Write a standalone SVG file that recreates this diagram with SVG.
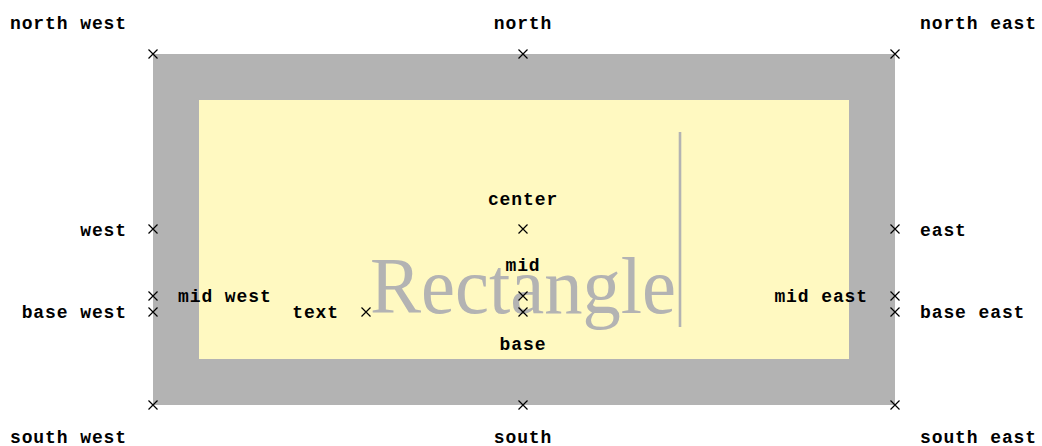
<svg xmlns="http://www.w3.org/2000/svg" width="1042" height="446" viewBox="0 0 1042 446">
<style>
.lbl{font-family:"Liberation Mono","DejaVu Sans Mono",monospace;font-size:18px;font-weight:bold;letter-spacing:0.9px;fill:#000}
.x{stroke:#000;stroke-width:1.2;fill:none}
</style>
<defs>
<path id="cx" d="M-4.5,-4.5L4.5,4.5M-4.5,4.5L4.5,-4.5" class="x"/>
</defs>
<g id="rectangle-node">
<rect x="153" y="54" width="742" height="351" fill="#b3b3b3"/>
<rect x="199" y="100" width="650" height="259" fill="#fff9c1"/>
<text x="370" y="313" font-family="'Liberation Serif','DejaVu Serif',serif" font-size="80" fill="#b3b3b3" textLength="306" lengthAdjust="spacingAndGlyphs">Rectangle</text>
<line x1="680" y1="132" x2="680" y2="327" stroke="#b3b3b3" stroke-width="2.6"/>
</g>
<g id="anchors">
<use href="#cx" x="153" y="54"/>
<use href="#cx" x="523" y="54"/>
<use href="#cx" x="895" y="54"/>
<use href="#cx" x="153" y="229"/>
<use href="#cx" x="523" y="229"/>
<use href="#cx" x="895" y="229"/>
<use href="#cx" x="153" y="296"/>
<use href="#cx" x="523" y="296"/>
<use href="#cx" x="895" y="296"/>
<use href="#cx" x="153" y="312"/>
<use href="#cx" x="366" y="312"/>
<use href="#cx" x="523" y="312"/>
<use href="#cx" x="895" y="312"/>
<use href="#cx" x="153" y="405"/>
<use href="#cx" x="523" y="405"/>
<use href="#cx" x="895" y="405"/>
</g>
<g id="labels">
<text class="lbl" x="127" y="29" text-anchor="end">north west</text>
<text class="lbl" x="523" y="29" text-anchor="middle">north</text>
<text class="lbl" x="920" y="29">north east</text>
<text class="lbl" x="127" y="236" text-anchor="end">west</text>
<text class="lbl" x="523" y="205" text-anchor="middle">center</text>
<text class="lbl" x="920" y="236">east</text>
<text class="lbl" x="178" y="302">mid west</text>
<text class="lbl" x="523" y="271" text-anchor="middle">mid</text>
<text class="lbl" x="868" y="302" text-anchor="end">mid east</text>
<text class="lbl" x="127" y="318" text-anchor="end">base west</text>
<text class="lbl" x="339" y="318" text-anchor="end">text</text>
<text class="lbl" x="523" y="350" text-anchor="middle">base</text>
<text class="lbl" x="920" y="318">base east</text>
<text class="lbl" x="127" y="443" text-anchor="end">south west</text>
<text class="lbl" x="523" y="443" text-anchor="middle">south</text>
<text class="lbl" x="920" y="443">south east</text>
</g>
</svg>
